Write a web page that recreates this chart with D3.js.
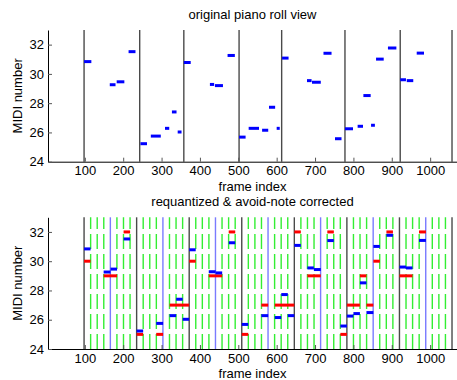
<!DOCTYPE html>
<html>
<head>
<meta charset="utf-8">
<script src="https://cdn.jsdelivr.net/npm/d3@7"></script>
<style>
body { margin: 0; background: #fff; }
text { font-family: "Liberation Sans", Arial, sans-serif; }
</style>
</head>
<body>
<div class="chart"></div>
<script>
// original (detected) notes: fractional MIDI pitch, onset / offset frame
var pitch   = [30.84, 29.26, 29.46, 31.52, 25.23, 25.75, 26.28, 27.4, 26.03, 30.78,
               29.28, 29.2, 31.26, 25.68, 26.28, 26.15, 27.72, 26.28, 31.08, 29.54,
               29.43, 31.41, 25.57, 26.25, 26.42, 28.52, 26.49, 31.01, 31.77, 29.6,
               29.54, 31.42];
var origOn  = [98, 165, 183, 214, 245, 272, 309, 327, 342, 358,
               426, 439, 472, 502, 527, 562, 580, 600, 614, 679,
               692, 722, 752, 778, 811, 826, 846, 859, 890, 922,
               939, 965];
var origOff = [117, 180, 203, 232, 262, 298, 320, 339, 352, 376,
               437, 460, 491, 519, 554, 578, 596, 608, 631, 691,
               715, 743, 769, 799, 825, 845, 856, 879, 912, 937,
               956, 984];

// same notes moved onto the new grid
var quantOn  = [98, 149, 167, 201, 235, 286, 321, 338, 355, 372,
                423, 441, 475, 509, 560, 595, 612, 629, 646, 680,
                697, 732, 766, 783, 800, 817, 834, 852, 886, 920,
                937, 971];
var quantOff = [115, 167, 184, 218, 252, 304, 338, 355, 372, 389,
                441, 458, 492, 526, 578, 612, 629, 646, 663, 697,
                715, 749, 783, 800, 817, 834, 852, 869, 903, 937,
                954, 989];

// requantized & avoid-note corrected notes
var corrPitch = [30, 29, 32, 25, 25, 27, 30, 29, 32, 25, 27, 27,
                 32, 29, 32, 25, 27, 29, 27, 30, 32, 29, 32];
var corrOn    = [98, 149, 201, 235, 286, 321, 372, 423, 475, 509, 560, 595,
                 646, 680, 732, 766, 783, 817, 834, 852, 886, 920, 971];
var corrOff   = [115, 184, 218, 252, 304, 372, 389, 458, 492, 526, 578, 646,
                 663, 715, 749, 783, 817, 834, 852, 869, 903, 954, 989];

var origBars  = [98, 243, 358, 502, 613, 778, 922, 1057];
var quantBars = [98, 235, 372, 509, 646, 783, 920, 1057];

var xTicks = [100, 200, 300, 400, 500, 600, 700, 800, 900, 1000];
var yTicks = [24, 26, 28, 30, 32];

var W = 457, H = 380;
var fs = 13;

var svg = d3.select('.chart')
  .append('svg')
	.attr('width', W)
	.attr('height', H);

var x = d3.scaleLinear().domain([4, 1070]).range([48, 457]);

function panel(top, bottom, title) {
	var y = d3.scaleLinear().domain([24, 33]).range([bottom, top]);
	var g = svg.append('g');
	var grid = g.append('g');
	var marks = g.append('g');

	var xa = g.append('g')
		.attr('transform', `translate(0, ${bottom})`)
		.call(d3.axisBottom(x).tickValues(xTicks).tickFormat(d3.format('d'))
			.tickSize(-4).tickSizeOuter(0).tickPadding(4.5));
	var ya = g.append('g')
		.attr('transform', `translate(48, 0)`)
		.call(d3.axisLeft(y).tickValues(yTicks).tickSize(-4).tickSizeOuter(0).tickPadding(4));
	[xa, ya].forEach(function(a) {
		a.attr('font-size', fs).attr('font-family', '"Liberation Sans", Arial, sans-serif');
		a.selectAll('.tick line').attr('stroke', '#555');
	});

	g.append('text')
		.attr('x', 252.5).attr('y', top - 11)
		.attr('text-anchor', 'middle').attr('font-size', fs)
		.text(title);
	g.append('text')
		.attr('x', 252.5).attr('y', bottom + 29)
		.attr('text-anchor', 'middle').attr('font-size', fs)
		.text('frame index');
	g.append('text')
		.attr('transform', `translate(22, ${(top + bottom) / 2}) rotate(-90)`)
		.attr('text-anchor', 'middle').attr('font-size', fs)
		.text('MIDI number');

	return {y: y, grid: grid, marks: marks, top: top, bottom: bottom};
}

function drawBars(p, bars) {
	p.grid.selectAll('line.bar')
		.data(bars)
		.enter()
		.append('line')
		.attr('class', 'bar')
		.attr('x1', d => x(d)).attr('x2', d => x(d))
		.attr('y1', p.bottom).attr('y2', p.top)
		.attr('stroke', '#4a4a4a')
		.attr('stroke-width', 1.4);
}

function drawNotes(p, on, off, pv, color) {
	p.marks.append('g')
		.selectAll('line')
		.data(on)
		.enter()
		.append('line')
		.attr('x1', (d, i) => x(on[i]))
		.attr('x2', (d, i) => x(off[i]))
		.attr('y1', (d, i) => p.y(pv[i]))
		.attr('y2', (d, i) => p.y(pv[i]))
		.attr('stroke', color)
		.attr('stroke-width', 3);
}

// top: original piano roll
var p1 = panel(30, 161.7, 'original piano roll view');
drawBars(p1, origBars);
drawNotes(p1, origOn, origOff, pitch, '#0000ff');

// bottom: requantized
var p2 = panel(217.3, 349, 'requantized & avoid-note corrected');

// eight grid divisions per bar, half bar in blue
var sub = [];
for (var i = 0; i < quantBars.length - 1; i++) {
	var a = quantBars[i], b = quantBars[i + 1];
	for (var k = 1; k < 8; k++) sub.push({f: a + (b - a) * k / 8, half: k == 4});
}
p2.grid.selectAll('line.sub')
	.data(sub)
	.enter()
	.append('line')
	.attr('class', 'sub')
	.attr('x1', d => x(d.f)).attr('x2', d => x(d.f))
	.attr('y1', p2.bottom).attr('y2', p2.top)
	.attr('stroke', d => d.half ? '#7a7aff' : '#33ee33')
	.attr('stroke-width', 1.4)
	.attr('stroke-dasharray', d => d.half ? null : '15,5');
drawBars(p2, quantBars);
drawNotes(p2, corrOn, corrOff, corrPitch, '#ff0000');
drawNotes(p2, quantOn, quantOff, pitch, '#0000ff');
</script>
</body>
</html>
